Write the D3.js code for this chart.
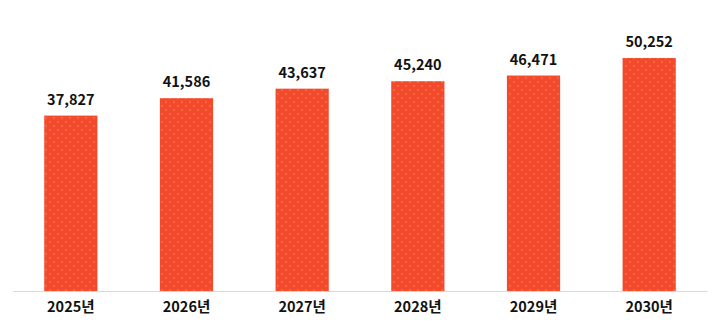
<!DOCTYPE html>
<html><head><meta charset="utf-8">
<script src="https://cdn.jsdelivr.net/npm/d3@7"></script>
<style>body{margin:0;background:#fff}svg{display:block}</style>
</head><body>
<script>
const categories = ["2025년","2026년","2027년","2028년","2029년","2030년"];
const values = [37827, 41586, 43637, 45240, 46471, 50252];

const W = 720, H = 329;
const svg = d3.select("body").append("svg").attr("width", W).attr("height", H);
const defs = svg.append("defs");
const pat = defs.append("pattern").attr("id","dots").attr("patternUnits","userSpaceOnUse")
  .attr("width",8).attr("height",8);
pat.append("rect").attr("width",8).attr("height",8).attr("fill","#F24A2A");
pat.append("circle").attr("cx",2).attr("cy",2).attr("r",0.7).attr("fill","#F9977C");
pat.append("circle").attr("cx",6).attr("cy",6).attr("r",0.7).attr("fill","#F9977C");

const x = d3.scaleBand().domain(categories).range([13, 707]).paddingInner(0.54).paddingOuter(0.27);
const y = d3.scaleLinear().domain([0, 60000]).range([291, 12.8]);

svg.selectAll("rect.bar").data(values).join("rect").attr("class","bar")
  .attr("x",(d,i)=>x(categories[i])).attr("width",x.bandwidth())
  .attr("y",d=>y(d)).attr("height",d=>y(0)-y(d))
  .attr("fill","url(#dots)");

svg.selectAll("text.val").data(values).join("text").attr("class","val")
  .attr("x",(d,i)=>x(categories[i])+x.bandwidth()/2).attr("y",d=>y(d)-11)
  .attr("text-anchor","middle").attr("font-family","'Noto Sans CJK KR', 'Noto Sans', sans-serif")
  .attr("font-weight","bold").attr("font-size",14.5).attr("fill","#111")
  .text(d=>d3.format(",")(d));

const ax = svg.append("g").attr("transform","translate(0,291)")
  .call(d3.axisBottom(x).tickSize(0).tickPadding(11));
ax.select(".domain").attr("stroke","#d9d9d9").attr("stroke-width",1.2);
ax.selectAll("text").attr("font-family","'Noto Sans CJK KR', 'Noto Sans', sans-serif")
  .attr("font-weight","bold").attr("font-size",14.5).attr("fill","#111");
</script>
</body></html>
